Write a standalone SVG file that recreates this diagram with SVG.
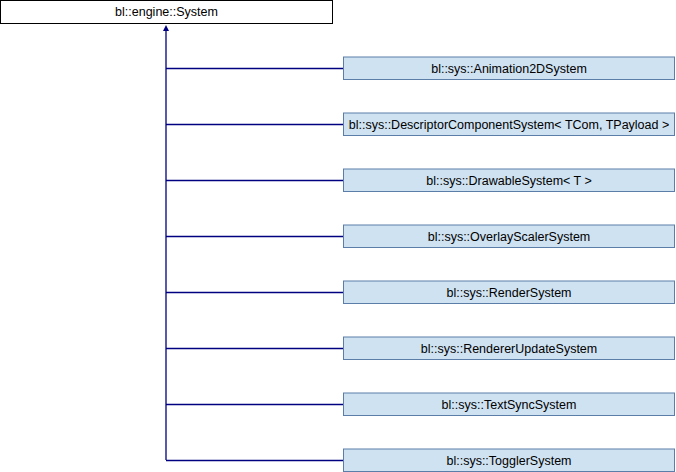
<svg xmlns="http://www.w3.org/2000/svg" width="676" height="472" viewBox="0 0 676 472">
<style>
.base rect{fill:#ffffff;stroke:#000000;stroke-width:1}
.child rect{fill:#cfe2f1;stroke:#5a7ea8;stroke-width:1}
text{font-family:"Liberation Sans",Arial,sans-serif;font-size:12.5px;fill:#000000;text-anchor:middle;dominant-baseline:central}
.edges path{fill:none;stroke:#000080;stroke-width:1.3}
.edges polygon{fill:#000080;stroke:none}
</style>
<g id="node-system" class="base"><rect x="0.5" y="0.5" width="332" height="23"/><text x="166.5" y="12">bl::engine::System</text></g>
<g class="edges" id="connectors">
<path d="M166,28 V460"/>
<polygon points="166,25 163,31 169,31"/>
<path d="M166,68.5 H343"/>
<path d="M166,124.5 H343"/>
<path d="M166,180.5 H343"/>
<path d="M166,236.5 H343"/>
<path d="M166,292.5 H343"/>
<path d="M166,348.5 H343"/>
<path d="M166,404.5 H343"/>
<path d="M166,460.5 H343"/>
</g>
<g id="node-animation2d" class="child"><rect x="343.5" y="57" width="331" height="22.5"/><text x="509" y="68.5">bl::sys::Animation2DSystem</text></g>
<g id="node-descriptor" class="child"><rect x="343.5" y="113" width="331" height="22.5"/><text x="509" y="124.5">bl::sys::DescriptorComponentSystem&lt; TCom, TPayload &gt;</text></g>
<g id="node-drawable" class="child"><rect x="343.5" y="169" width="331" height="22.5"/><text x="509" y="180.5">bl::sys::DrawableSystem&lt; T &gt;</text></g>
<g id="node-overlayscaler" class="child"><rect x="343.5" y="225" width="331" height="22.5"/><text x="509" y="236.5">bl::sys::OverlayScalerSystem</text></g>
<g id="node-render" class="child"><rect x="343.5" y="281" width="331" height="22.5"/><text x="509" y="292.5">bl::sys::RenderSystem</text></g>
<g id="node-rendererupdate" class="child"><rect x="343.5" y="337" width="331" height="22.5"/><text x="509" y="348.5">bl::sys::RendererUpdateSystem</text></g>
<g id="node-textsync" class="child"><rect x="343.5" y="393" width="331" height="22.5"/><text x="509" y="404.5">bl::sys::TextSyncSystem</text></g>
<g id="node-toggler" class="child"><rect x="343.5" y="449" width="331" height="22.5"/><text x="509" y="460.5">bl::sys::TogglerSystem</text></g>
</svg>
